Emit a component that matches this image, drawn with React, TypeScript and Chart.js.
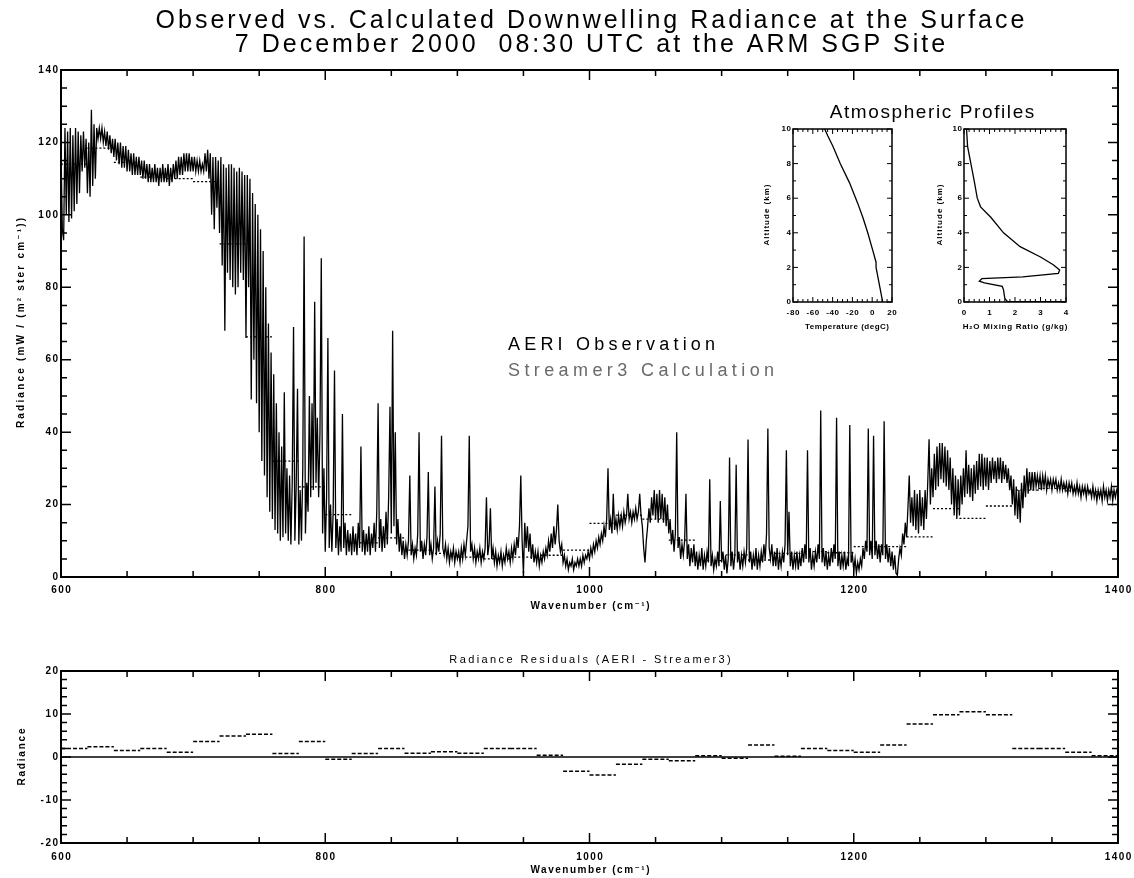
import React, { useEffect, useRef } from 'react';
import { Chart, registerables } from 'chart.js';

Chart.register(...registerables);

const FONT = '"Liberation Sans", Arial, "DejaVu Sans", sans-serif';

// ---------------- DATA ----------------
// AERI observed spectrum, sampled every 1 cm-1 from 600 to 1400 cm-1 (one row = 20 cm-1)
const aeriStart = 600;
const aeriStep = 1;
const aeriRadiance = [
  118, 96, 93, 124, 100, 123, 98, 124, 99, 122, 101, 124, 103, 123, 106, 122, 112, 123, 113, 121,
  106, 120, 105, 129, 108, 125, 110, 124, 121, 124, 121, 124, 120, 123, 119, 123, 118, 122, 117, 121,
  116, 121, 115, 120, 114, 120, 113, 119, 113, 119, 112, 118, 112, 117, 111, 117, 111, 116, 111, 116,
  111, 115, 110, 115, 110, 114, 109, 114, 109, 113, 109, 114, 109, 113, 108, 113, 109, 114, 109, 113,
  109, 114, 108, 113, 109, 114, 110, 115, 110, 116, 111, 116, 111, 117, 112, 117, 112, 117, 112, 116,
  112, 116, 112, 115, 112, 115, 112, 114, 112, 117, 112, 118, 110, 117, 100, 116, 96, 116, 102, 115,
  95, 116, 86, 114, 68, 113, 84, 114, 82, 114, 80, 113, 78, 112, 80, 113, 84, 112, 82, 111,
  66, 111, 80, 110, 49, 106, 60, 103, 48, 100, 40, 96, 32, 90, 28, 80, 22, 70, 18, 62,
  16, 56, 13, 48, 12, 40, 10, 36, 11, 51, 12, 30, 10, 28, 9, 26, 69, 10, 25, 52,
  9, 24, 10, 30, 94, 12, 26, 18, 50, 22, 48, 24, 76, 26, 44, 22, 40, 88, 12, 30,
  7, 22, 66, 8, 20, 7, 18, 57, 8, 16, 6, 14, 7, 45, 8, 15, 6, 13, 7, 12,
  6, 14, 7, 12, 6, 15, 8, 36, 7, 13, 6, 12, 7, 14, 6, 12, 8, 15, 7, 18,
  48, 8, 16, 7, 14, 8, 18, 9, 22, 47, 12, 68, 14, 40, 9, 16, 7, 12, 6, 10,
  5, 9, 6, 10, 28, 6, 9, 5, 8, 6, 12, 40, 7, 10, 5, 9, 6, 11, 29, 6,
  9, 5, 8, 25, 6, 10, 7, 12, 39, 8, 6, 9, 5, 8, 4, 7, 5, 8, 4, 7,
  5, 7, 4, 8, 5, 9, 6, 10, 14, 39, 7, 9, 5, 8, 4, 7, 5, 8, 4, 7,
  5, 8, 22, 6, 9, 19, 5, 8, 4, 7, 3, 6, 4, 7, 3, 6, 4, 8, 5, 7,
  4, 8, 5, 9, 6, 11, 8, 14, 28, 10, 1, 15, 8, 14, 7, 12, 5, 9, 4, 7,
  4, 7, 3, 6, 4, 7, 5, 8, 6, 10, 7, 12, 8, 14, 9, 13, 20, 10, 7, 9,
  4, 6, 3, 5, 2, 4, 3, 5, 2, 4, 3, 5, 3, 5, 3, 6, 4, 6, 5, 7,
  5, 8, 6, 9, 7, 10, 8, 11, 9, 12, 10, 14, 11, 16, 30, 13, 16, 12, 23, 13,
  16, 13, 17, 14, 17, 14, 18, 15, 17, 23, 16, 18, 15, 18, 16, 19, 16, 18, 23, 17,
  14, 8, 4, 10, 14, 19, 15, 22, 17, 24, 16, 23, 15, 24, 16, 23, 15, 22, 14, 20,
  12, 16, 9, 13, 7, 12, 40, 8, 11, 5, 9, 6, 10, 23, 5, 9, 3, 8, 4, 9,
  3, 7, 2, 6, 3, 8, 2, 6, 3, 7, 4, 27, 3, 6, 2, 5, 3, 7, 3, 21,
  4, 7, 2, 6, 1, 5, 33, 3, 7, 2, 6, 31, 4, 7, 2, 6, 3, 7, 4, 8,
  38, 4, 7, 2, 6, 3, 8, 2, 6, 3, 7, 4, 9, 5, 12, 41, 8, 5, 9, 3,
  7, 3, 8, 2, 6, 3, 7, 4, 9, 35, 6, 18, 3, 7, 2, 6, 3, 7, 2, 6,
  3, 8, 4, 9, 5, 35, 4, 8, 2, 6, 3, 7, 4, 9, 5, 46, 4, 8, 3, 7,
  2, 6, 3, 8, 4, 9, 5, 44, 3, 7, 2, 6, 3, 7, 2, 5, 3, 42, 4, 6,
  2, 5, 1, 4, 2, 5, 3, 8, 5, 10, 7, 41, 6, 10, 5, 39, 6, 10, 5, 9,
  4, 9, 6, 43, 5, 9, 4, 8, 3, 7, 2, 6, 1, 0.5, 5, 8, 6, 12, 9, 15,
  11, 19, 28, 15, 22, 14, 24, 13, 23, 12, 24, 14, 22, 13, 24, 16, 26, 38, 20, 30,
  22, 34, 24, 36, 25, 37, 27, 37, 26, 36, 25, 35, 24, 33, 20, 30, 17, 28, 16, 27,
  17, 28, 20, 30, 22, 35, 23, 31, 22, 30, 21, 31, 23, 32, 24, 34, 25, 34, 24, 33,
  25, 33, 24, 32, 26, 33, 27, 32, 26, 33, 27, 33, 26, 32, 27, 31, 26, 30, 24, 28,
  20, 27, 17, 25, 16, 24, 15, 26, 19, 28, 22, 30, 23, 29, 24, 29, 24, 29, 25, 28,
  25, 28, 24, 28, 25, 28, 24, 27, 25, 27, 24, 27, 25, 27, 24, 26, 24, 27, 24, 26,
  24, 26, 23, 26, 24, 26, 23, 25, 23, 26, 23, 25, 22, 25, 23, 25, 22, 25, 23, 24,
  22, 25, 22, 24, 21, 24, 22, 24, 21, 25, 22, 24, 21, 24, 22, 25, 21, 24, 22, 24,
  23,
];

// 20 cm-1 bands
const bandStarts = [
  600, 620, 640, 660, 680, 700, 720, 740, 760, 780,
  800, 820, 840, 860, 880, 900, 920, 940, 960, 980,
  1000, 1020, 1040, 1060, 1080, 1100, 1120, 1140, 1160, 1180,
  1200, 1220, 1240, 1260, 1280, 1300, 1320, 1340, 1360, 1380,
];
const bandWidth = 20;
const streamerBand = [
  114, 118.4, 114.5, 110.4, 110, 109.2, 92, 66.3, 32, 24.9,
  17.2, 9.4, 10.8, 7.4, 6.5, 5.5, 5.0, 5.5, 6.0, 7.4,
  14.8, 17.1, 16.0, 10.2, 4.5, 6.1, 4.7, 6.5, 7.0, 6.7,
  8.4, 8.4, 11.1, 18.9, 16.2, 19.6, 24.0, 24.5, 23.8, 23.5,
];
const residualBand = [
  2.0, 2.4, 1.5, 2.0, 1.1, 3.6, 4.9, 5.3, 0.8, 3.6,
  -0.5, 0.8, 2.0, 0.9, 1.2, 0.9, 2.0, 2.0, 0.4, -3.3,
  -4.2, -1.7, -0.5, -0.9, 0.3, -0.3, 2.8, 0.2, 2.0, 1.5,
  1.1, 2.8, 7.7, 9.8, 10.5, 9.8, 2.0, 2.0, 1.1, 0.3,
];
const zeroLineX = [600, 1400];

// Atmospheric profiles
const tempAltitude = [0, 2.0, 2.3, 3, 4, 4.9, 5.7, 6.9, 8, 9, 9.6, 10];
const temperature = [10.6, 3.9, 3.9, 0.5, -4.5, -9.5, -14.6, -23, -32.3, -39.7, -44.8, -48];
const h2oAltitude = [0.02, 0.03, 0.2, 0.7, 0.9, 1.1, 1.2, 1.35, 1.45, 1.65, 1.85, 2.15, 2.6, 3.2, 4.0, 4.9, 5.5, 6.0, 7.0, 8.0, 9.0, 10];
const h2oMixing = [4.2, 1.7, 1.6, 1.55, 1.5, 0.8, 0.6, 0.7, 2.3, 3.7, 3.75, 3.5, 3.0, 2.2, 1.55, 1.05, 0.65, 0.52, 0.4, 0.27, 0.14, 0.1];

// Axis tick settings
const mainXTicks = { min: 600, max: 1400, step: 200, minor: 50 };
const mainYTicks = { min: 0, max: 140, step: 20, minor: 5 };
const resYTicks = { min: -20, max: 20, step: 10, minor: 2 };
const tempXTicks = { min: -80, max: 20, step: 20, minor: 5 };
const h2oXTicks = { min: 0, max: 4, step: 1, minor: 0.2 };
const altYTicks = { min: 0, max: 10, step: 2, minor: 1 };

const TITLE1 = 'Observed vs. Calculated Downwelling Radiance at the Surface';
const TITLE2 = '7 December 2000  08:30 UTC at the ARM SGP Site';

// ---------------- HELPERS ----------------
type TextSpec = {
  text: string; x: number; y: number; size: number; spacing?: number;
  align?: CanvasTextAlign; rotate?: number; color?: string; weight?: string;
};
type FrameSpec = {
  majorLen: number; minorLen: number; frameWidth: number; tickWidth: number;
  xMinor: number; yMinor: number;
  labelSize: number; labelSpacing: number; labelWeight: string; xLabelOffset: number; yLabelGap: number;
  texts: TextSpec[];
};

function drawText(ctx: any, t: TextSpec) {
  ctx.save();
  const sp = t.spacing || 0;
  ctx.font = `${t.weight || 'normal'} ${t.size}px ${FONT}`;
  ctx.fillStyle = t.color || '#000';
  ctx.letterSpacing = `${sp}px`;
  ctx.textBaseline = 'middle';
  const align = t.align || 'center';
  ctx.textAlign = align;
  const dx = align === 'center' ? sp / 2 : align === 'right' ? sp : 0;
  ctx.translate(t.x, t.y);
  if (t.rotate) ctx.rotate(t.rotate);
  ctx.fillText(t.text, dx, 0);
  ctx.restore();
}

function fmt(v: number) {
  const r = Math.round(v * 1000) / 1000;
  return String(r);
}

function framePlugin(spec: FrameSpec) {
  return {
    id: 'idlFrame',
    afterDraw(chart: any) {
      const { ctx, chartArea: a } = chart;
      const xs = chart.scales.x;
      const ys = chart.scales.y;
      ctx.save();
      ctx.strokeStyle = '#000';
      ctx.lineCap = 'butt';
      ctx.lineWidth = spec.tickWidth;
      const xMaj = xs.ticks.map((t: any) => t.value);
      const yMaj = ys.ticks.map((t: any) => t.value);
      const isMaj = (arr: number[], v: number, rng: number) => arr.some((m) => Math.abs(m - v) < rng * 1e-6);
      const nx = Math.round((xs.max - xs.min) / spec.xMinor);
      ctx.beginPath();
      for (let k = 0; k <= nx; k++) {
        const v = xs.min + k * spec.xMinor;
        const len = isMaj(xMaj, v, xs.max - xs.min) ? spec.majorLen : spec.minorLen;
        const px = xs.getPixelForValue(v);
        ctx.moveTo(px, a.bottom); ctx.lineTo(px, a.bottom - len);
        ctx.moveTo(px, a.top); ctx.lineTo(px, a.top + len);
      }
      const ny = Math.round((ys.max - ys.min) / spec.yMinor);
      for (let k = 0; k <= ny; k++) {
        const v = ys.min + k * spec.yMinor;
        const len = isMaj(yMaj, v, ys.max - ys.min) ? spec.majorLen : spec.minorLen;
        const py = ys.getPixelForValue(v);
        ctx.moveTo(a.left, py); ctx.lineTo(a.left + len, py);
        ctx.moveTo(a.right, py); ctx.lineTo(a.right - len, py);
      }
      ctx.stroke();
      ctx.lineWidth = spec.frameWidth;
      ctx.strokeRect(a.left, a.top, a.right - a.left, a.bottom - a.top);
      ctx.restore();
      xs.ticks.forEach((t: any) => {
        drawText(ctx, { text: fmt(t.value), x: xs.getPixelForValue(t.value), y: a.bottom + spec.xLabelOffset, size: spec.labelSize, spacing: spec.labelSpacing, weight: spec.labelWeight });
      });
      ys.ticks.forEach((t: any) => {
        drawText(ctx, { text: fmt(t.value), x: a.left - spec.yLabelGap, y: ys.getPixelForValue(t.value), size: spec.labelSize, spacing: spec.labelSpacing, align: 'right', weight: spec.labelWeight });
      });
      spec.texts.forEach((t) => drawText(ctx, t));
    },
  };
}

function axis(t: { min: number; max: number; step: number }) {
  return {
    type: 'linear',
    min: t.min,
    max: t.max,
    ticks: { stepSize: t.step, display: false },
    grid: { display: false, drawTicks: false },
    border: { display: false },
  };
}

function makeConfig(datasets: any[], xT: any, yT: any, padding: any, spec: FrameSpec) {
  return {
    type: 'line',
    data: { datasets },
    options: {
      animation: false,
      responsive: false,
      maintainAspectRatio: false,
      devicePixelRatio: 1,
      events: [],
      layout: { padding },
      scales: { x: axis(xT), y: axis(yT) },
      plugins: { legend: { display: false }, tooltip: { enabled: false }, title: { display: false } },
      elements: { point: { radius: 0 }, line: { tension: 0 } },
    },
    plugins: [framePlugin(spec)],
  } as any;
}

function bandSegments(values: number[]) {
  const pts: { x: number; y: number | null }[] = [];
  bandStarts.forEach((s, i) => {
    pts.push({ x: s, y: values[i] });
    pts.push({ x: s + bandWidth, y: values[i] });
    pts.push({ x: s + bandWidth, y: null });
  });
  return pts;
}

// ---------------- COMPONENT ----------------
export default function App() {
  const mainRef = useRef<HTMLCanvasElement>(null);
  const resRef = useRef<HTMLCanvasElement>(null);
  const tempRef = useRef<HTMLCanvasElement>(null);
  const h2oRef = useRef<HTMLCanvasElement>(null);

  useEffect(() => {
    const aeriPts = aeriRadiance.map((v, i) => ({ x: aeriStart + i * aeriStep, y: v }));

    const mainChart = new Chart(
      mainRef.current!,
      makeConfig(
        [
          { data: aeriPts, borderColor: '#000', borderWidth: 1.3, pointRadius: 0, fill: false },
          { data: bandSegments(streamerBand), borderColor: '#000', borderWidth: 1.3, borderDash: [2, 2], pointRadius: 0, fill: false, spanGaps: false },
        ],
        mainXTicks, mainYTicks,
        { left: 61, top: 70, right: 16, bottom: 63 },
        {
          majorLen: 10, minorLen: 6, frameWidth: 2, tickWidth: 1.5, xMinor: mainXTicks.minor, yMinor: mainYTicks.minor,
          labelSize: 10, labelSpacing: 1.5, labelWeight: 'bold', xLabelOffset: 13, yLabelGap: 3,
          texts: [
            { text: TITLE1, x: 590, y: 21, size: 25, spacing: 3 },
            { text: TITLE2, x: 590, y: 45, size: 25, spacing: 3 },
            { text: 'Radiance (mW / (m² ster cm⁻¹))', x: 21, y: 323, size: 10, spacing: 2.2, rotate: -Math.PI / 2, weight: 'bold' },
            { text: 'Wavenumber (cm⁻¹)', x: 590, y: 606, size: 10, spacing: 1.5, weight: 'bold' },
            { text: 'AERI Observation', x: 508, y: 345, size: 18, spacing: 4.2, align: 'left' },
            { text: 'Streamer3 Calculation', x: 508, y: 371, size: 18, spacing: 4.4, align: 'left', color: '#6a6a6a' },
            { text: 'Atmospheric Profiles', x: 932, y: 113, size: 19, spacing: 1.6 },
          ],
        }
      )
    );

    const resChart = new Chart(
      resRef.current!,
      makeConfig(
        [
          { data: zeroLineX.map((x) => ({ x, y: 0 })), borderColor: '#000', borderWidth: 1.5, pointRadius: 0, fill: false },
          { data: bandSegments(residualBand), borderColor: '#000', borderWidth: 1.5, borderDash: [4, 2], pointRadius: 0, fill: false, spanGaps: false },
        ],
        mainXTicks, resYTicks,
        { left: 61, top: 31, right: 16, bottom: 35 },
        {
          majorLen: 10, minorLen: 6, frameWidth: 2, tickWidth: 1.5, xMinor: mainXTicks.minor, yMinor: resYTicks.minor,
          labelSize: 10, labelSpacing: 1.5, labelWeight: 'bold', xLabelOffset: 14, yLabelGap: 3,
          texts: [
            { text: 'Radiance Residuals (AERI - Streamer3)', x: 590, y: 20, size: 11, spacing: 2.4 },
            { text: 'Radiance', x: 22, y: 117, size: 10, spacing: 1.8, rotate: -Math.PI / 2, weight: 'bold' },
            { text: 'Wavenumber (cm⁻¹)', x: 590, y: 230, size: 10, spacing: 1.5, weight: 'bold' },
          ],
        }
      )
    );

    const tempChart = new Chart(
      tempRef.current!,
      makeConfig(
        [{ data: temperature.map((t, i) => ({ x: t, y: tempAltitude[i] })), borderColor: '#000', borderWidth: 1.3, pointRadius: 0, fill: false }],
        tempXTicks, altYTicks,
        { left: 48, top: 34, right: 8, bottom: 38 },
        {
          majorLen: 5, minorLen: 3, frameWidth: 1.5, tickWidth: 1, xMinor: tempXTicks.minor, yMinor: altYTicks.minor,
          labelSize: 8, labelSpacing: 0.6, labelWeight: 'bold', xLabelOffset: 11, yLabelGap: 2,
          texts: [
            { text: 'Altitude (km)', x: 22, y: 120, size: 8, spacing: 1, rotate: -Math.PI / 2, weight: 'bold' },
            { text: 'Temperature (degC)', x: 102, y: 232, size: 8, spacing: 0.5, weight: 'bold' },
          ],
        }
      )
    );

    const h2oChart = new Chart(
      h2oRef.current!,
      makeConfig(
        [{ data: h2oMixing.map((m, i) => ({ x: m, y: h2oAltitude[i] })), borderColor: '#000', borderWidth: 1.3, pointRadius: 0, fill: false }],
        h2oXTicks, altYTicks,
        { left: 49, top: 34, right: 19, bottom: 38 },
        {
          majorLen: 5, minorLen: 3, frameWidth: 1.5, tickWidth: 1, xMinor: h2oXTicks.minor, yMinor: altYTicks.minor,
          labelSize: 8, labelSpacing: 0.6, labelWeight: 'bold', xLabelOffset: 11, yLabelGap: 2,
          texts: [
            { text: 'Altitude (km)', x: 25, y: 120, size: 8, spacing: 1, rotate: -Math.PI / 2, weight: 'bold' },
            { text: 'H₂O Mixing Ratio (g/kg)', x: 100, y: 232, size: 8, spacing: 0.7, weight: 'bold' },
          ],
        }
      )
    );

    return () => {
      mainChart.destroy();
      resChart.destroy();
      tempChart.destroy();
      h2oChart.destroy();
    };
  }, []);

  return (
    <div style={{ position: 'absolute', left: 0, top: 0, width: 1134, height: 878, background: '#fff' }}>
      <canvas ref={mainRef} width={1134} height={640} style={{ position: 'absolute', left: 0, top: 0 }} />
      <canvas ref={resRef} width={1134} height={238} style={{ position: 'absolute', left: 0, top: 640 }} />
      <canvas ref={tempRef} width={155} height={245} style={{ position: 'absolute', left: 745, top: 95 }} />
      <canvas ref={h2oRef} width={170} height={245} style={{ position: 'absolute', left: 915, top: 95 }} />
    </div>
  );
}
